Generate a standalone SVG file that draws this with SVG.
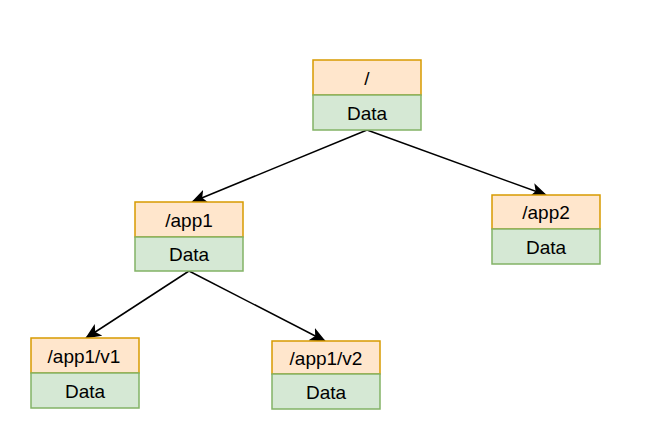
<svg xmlns="http://www.w3.org/2000/svg" width="645" height="440" viewBox="0 0 645 440">
<style>
.h{fill:#ffe6cc;stroke:#d79b00;stroke-width:1.5}
.d{fill:#d5e8d4;stroke:#82b366;stroke-width:1.5}
text{font-family:"Liberation Sans",Arial,sans-serif;font-size:19px;fill:#000;text-anchor:middle;dominant-baseline:central}
.e{stroke:#000;stroke-width:1.5;fill:none;marker-end:url(#a)}
</style>
<defs>
<marker id="a" markerUnits="userSpaceOnUse" markerWidth="16" markerHeight="14" viewBox="0 0 16 14" refX="15" refY="7" orient="auto">
<path d="M0,0 L16,7 L0,14 L4,7 Z" fill="#000"/>
</marker>
</defs>
<rect width="645" height="440" fill="#fff"/>
<g id="connectors">
<path class="e" d="M367,130 L192,202"/>
<path class="e" d="M367,130 L546,195"/>
<path class="e" d="M189,271 L86,338"/>
<path class="e" d="M189,271 L325,341"/>
</g>
<g id="root">
<rect class="h" x="313" y="60" width="108" height="35"/>
<rect class="d" x="313" y="95" width="108" height="35"/>
<text x="367" y="78">/</text>
<text x="367" y="113">Data</text>
</g>
<g id="app1">
<rect class="h" x="135" y="202" width="108" height="35"/>
<rect class="d" x="135" y="237" width="108" height="34"/>
<text x="189" y="220">/app1</text>
<text x="189" y="254.5">Data</text>
</g>
<g id="app2">
<rect class="h" x="492" y="195" width="108" height="34"/>
<rect class="d" x="492" y="229" width="108" height="35"/>
<text x="546" y="212.5">/app2</text>
<text x="546" y="247">Data</text>
</g>
<g id="v1">
<rect class="h" x="31" y="338" width="108" height="35"/>
<rect class="d" x="31" y="373" width="108" height="35"/>
<text x="84" y="356.5">/app1/v1</text>
<text x="85" y="391">Data</text>
</g>
<g id="v2">
<rect class="h" x="272" y="341" width="108" height="33"/>
<rect class="d" x="272" y="374" width="108" height="35"/>
<text x="326" y="358">/app1/v2</text>
<text x="326" y="392">Data</text>
</g>
</svg>
